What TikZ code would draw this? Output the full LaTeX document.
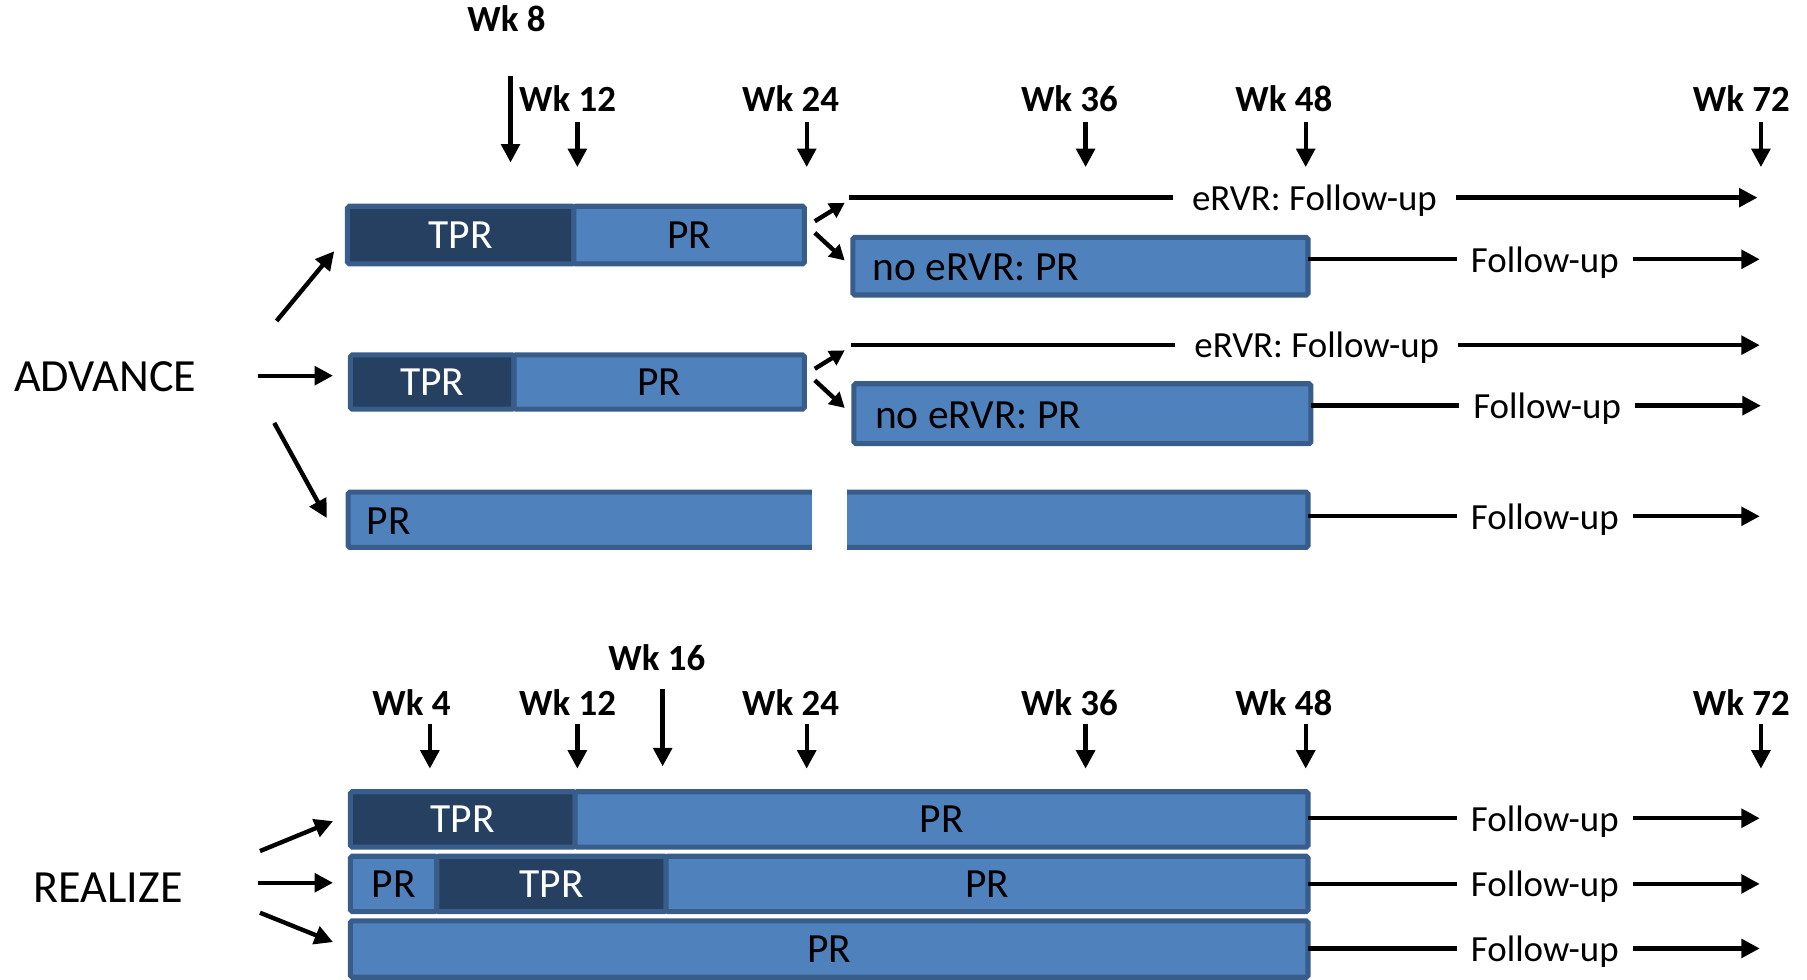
\documentclass[tikz,border=0pt]{standalone}
\usepackage{fontspec}
\setmainfont{Carlito}
\usetikzlibrary{arrows.meta,fit}
\definecolor{lt}{HTML}{4F81BD}
\definecolor{dk}{HTML}{254061}
\definecolor{bd}{HTML}{385D8A}
\begin{document}
\begin{tikzpicture}[x=0.5pt,y=-0.5pt,
  seg/.style={draw=bd, line width=2.2pt, inner sep=0pt, outer sep=0pt, rounded corners=0.8pt},
  lseg/.style={seg, fill=lt},
  dseg/.style={seg, fill=dk},
  ltxt/.style={font=\fontsize{18}{20}\selectfont, inner sep=0pt, text=black},
  dtxt/.style={ltxt, text=white},
  btxt/.style={ltxt, anchor=west},
  wk/.style={font=\fontsize{16}{18}\selectfont\bfseries, anchor=base, inner sep=0pt},
  arr/.style={line width=1.9pt, -{Triangle[length=8pt,width=8pt]}},
  sarr/.style={line width=1.9pt, -{Triangle[length=6.5pt,width=7pt]}},
  ln/.style={line width=1.9pt},
  fu/.style={font=\fontsize{16}{18}\selectfont, inner xsep=6pt, inner ysep=0pt, text depth=0pt, anchor=west},
  ev/.style={fu, inner xsep=8pt},
  big/.style={font=\fontsize{20}{24}\selectfont, anchor=west, inner sep=0pt}]

\useasboundingbox (0,0) rectangle (1568,850);

% ---------------- ADVANCE ----------------
\node[big] (adv) at (12,326.5) {ADVANCE};

% week labels (top)
\node[wk] (t8)  at (439.5,27.5) {Wk 8};
\node[wk] (t12) at (492.5,97) {Wk 12};
\node[wk] (t24) at (686,97) {Wk 24};
\node[wk] (t36) at (928,97) {Wk 36};
\node[wk] (t48) at (1114,97) {Wk 48};
\node[wk] (t72) at (1511,97) {Wk 72};
\foreach \n/\x/\ya/\yb in {8/443/66/141, 12/501/106/145, 24/700/106/145, 36/942/106/145, 48/1133/106/145, 72/1528/106/145}{
  \coordinate (ts\n) at (\x,\ya);
  \coordinate (te\n) at (\x,\yb);
  \draw[arr] (ts\n) -- (te\n);
}

% row A1
\node[dseg, fit={(301.5,179) (498,229)}] (a1t) {};
\node[lseg, fit={(498,179) (698,229)}] (a1p) {};
\node[dtxt] (a1tt) at (a1t.center) {TPR};
\node[ltxt] (a1pt) at (a1p.center) {PR};
\node[lseg, fit={(740,206) (1135,256)}] (a1n) {};
\node[btxt] (a1nt) at (757,232) {no eRVR: PR};
\coordinate (a1es) at (737,171.5);
\node[ev] (a1e) at (1018,171.5) {eRVR: Follow-up};
\coordinate (a1ee) at (1525,171.5);
\draw[ln] (a1es) -- (a1e.west);
\draw[arr] (a1e.east) -- (a1ee);
\node[fu] (a1f) at (1264,225) {Follow-up};
\coordinate (a1fe) at (1527,225);
\draw[ln] (a1n.east |- a1f.west) -- (a1f.west);
\draw[arr] (a1f.east) -- (a1fe);
\coordinate (a1u0) at (707,192);
\coordinate (a1u1) at (733,176);
\coordinate (a1d0) at (707,202);
\coordinate (a1d1) at (733,226);
\draw[sarr] (a1u0) -- (a1u1);
\draw[sarr] (a1d0) -- (a1d1);

% row A2
\node[dseg, fit={(304,308) (446,355)}] (a2t) {};
\node[lseg, fit={(446,308) (698,355)}] (a2p) {};
\node[dtxt] (a2tt) at (a2t.center) {TPR};
\node[ltxt] (a2pt) at (a2p.center) {PR};
\node[lseg, fit={(741,333) (1137.5,385)}] (a2n) {};
\node[btxt] (a2nt) at (759,360) {no eRVR: PR};
\coordinate (a2es) at (738,299.5);
\node[ev] (a2e) at (1020,299.5) {eRVR: Follow-up};
\coordinate (a2ee) at (1527,299.5);
\draw[ln] (a2es) -- (a2e.west);
\draw[arr] (a2e.east) -- (a2ee);
\node[fu] (a2f) at (1266,352) {Follow-up};
\coordinate (a2fe) at (1528,352);
\draw[ln] (a2n.east |- a2f.west) -- (a2f.west);
\draw[arr] (a2f.east) -- (a2fe);
\coordinate (a2u0) at (707,320);
\coordinate (a2u1) at (733,304);
\coordinate (a2d0) at (707,330);
\coordinate (a2d1) at (733,354);
\draw[sarr] (a2u0) -- (a2u1);
\draw[sarr] (a2d0) -- (a2d1);

% row A3
\node[lseg, fit={(302,427) (1135,475)}] (a3) {};
\fill[white] (705,418) rectangle (735,484);
\node[btxt] (a3t) at (318,452) {PR};
\node[fu] (a3f) at (1264,448) {Follow-up};
\coordinate (a3fe) at (1527,448);
\draw[ln] (a3.east |- a3f.west) -- (a3f.west);
\draw[arr] (a3f.east) -- (a3fe);

% ADVANCE arrows
\coordinate (av1s) at (240,278.5); \coordinate (av1e) at (290,218);
\coordinate (av2s) at (224,326);   \coordinate (av2e) at (289,326);
\coordinate (av3s) at (238,367);   \coordinate (av3e) at (283.5,449.5);
\draw[arr] (av1s) -- (av1e);
\draw[arr] (av2s) -- (av2e);
\draw[arr] (av3s) -- (av3e);

% ---------------- REALIZE ----------------
\node[big] (rea) at (29,770.5) {REALIZE};

\node[wk] (b16) at (570,581.5) {Wk 16};
\node[wk] (b4)  at (357,620.5) {Wk 4};
\node[wk] (b12) at (492.5,620.5) {Wk 12};
\node[wk] (b24) at (686,620.5) {Wk 24};
\node[wk] (b36) at (928,620.5) {Wk 36};
\node[wk] (b48) at (1114,620.5) {Wk 48};
\node[wk] (b72) at (1511,620.5) {Wk 72};
\foreach \n/\x/\ya/\yb in {16/575/598/665, 4/373/628/667, 12/501/628/667, 24/700/628/667, 36/942/628/667, 48/1133/628/667, 72/1528/628/667}{
  \coordinate (bs\n) at (\x,\ya);
  \coordinate (be\n) at (\x,\yb);
  \draw[arr] (bs\n) -- (be\n);
}

% row R1
\node[dseg, fit={(304,687) (499,735)}] (r1t) {};
\node[lseg, fit={(499,687) (1135,735)}] (r1p) {};
\node[dtxt] (r1tt) at (r1t.center) {TPR};
\node[ltxt] (r1pt) at (r1p.center) {PR};
% row R2
\node[lseg, fit={(304,743) (379,791)}] (r2a) {};
\node[dseg, fit={(379,743) (578,791)}] (r2t) {};
\node[lseg, fit={(578,743) (1135,791)}] (r2p) {};
\node[ltxt] (r2at) at (r2a.center) {PR};
\node[dtxt] (r2tt) at (r2t.center) {TPR};
\node[ltxt] (r2pt) at (r2p.center) {PR};
% row R3
\node[lseg, fit={(304,799) (1135,848)}] (r3p) {};
\node[ltxt] (r3pt) at (r3p.center) {PR};

\node[fu] (r1f) at (1264,710) {Follow-up};
\node[fu] (r2f) at (1264,767) {Follow-up};
\node[fu] (r3f) at (1264,823) {Follow-up};
\coordinate (r1fe) at (1527,710);
\coordinate (r2fe) at (1527,767);
\coordinate (r3fe) at (1527,823);
\draw[ln] (r1p.east |- r1f.west) -- (r1f.west);
\draw[ln] (r2p.east |- r2f.west) -- (r2f.west);
\draw[ln] (r3p.east |- r3f.west) -- (r3f.west);
\draw[arr] (r1f.east) -- (r1fe);
\draw[arr] (r2f.east) -- (r2fe);
\draw[arr] (r3f.east) -- (r3fe);

% REALIZE arrows
\coordinate (rv1s) at (225.6,738.5); \coordinate (rv1e) at (289,712.5);
\coordinate (rv2s) at (224,766);     \coordinate (rv2e) at (289,766);
\coordinate (rv3s) at (225.6,792);   \coordinate (rv3e) at (289,817.5);
\draw[arr] (rv1s) -- (rv1e);
\draw[arr] (rv2s) -- (rv2e);
\draw[arr] (rv3s) -- (rv3e);
\end{tikzpicture}
\end{document}
